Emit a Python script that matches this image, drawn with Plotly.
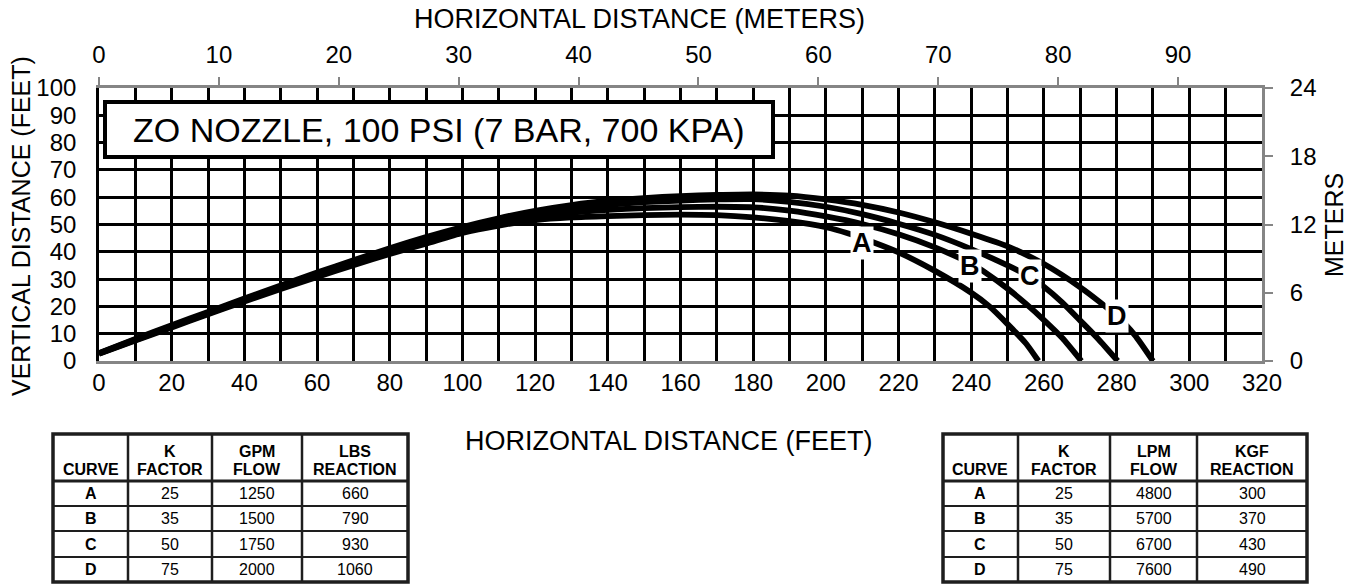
import plotly.graph_objects as go

# ---------------- data ----------------
curve_names = ["A", "B", "C", "D"]

curve_a_x = [0, 10, 20, 30, 40, 50, 60, 70, 80, 90, 100, 110, 120, 130, 140, 150, 160, 170, 180, 190,
             200, 206, 213, 220, 230, 240, 245, 250, 255, 258.5]
curve_a_y = [2.6, 7.5, 12.3, 17.1, 21.8, 26.4, 30.8, 35.1, 39.2, 43.0, 46.9, 49.6, 51.6, 52.6, 53.1, 53.4,
             53.6, 53.4, 52.6, 51.2, 49.0, 46.8, 43.5, 39.8, 33.0, 25.0, 20.0, 13.5, 6.5, 0]

curve_b_x = [0, 10, 20, 30, 40, 50, 60, 70, 80, 90, 100, 110, 120, 130, 140, 150, 160, 170, 180, 190,
             200, 210, 220, 230, 240, 244, 250, 255, 260, 265, 270.3]
curve_b_y = [2.7, 7.7, 12.6, 17.4, 22.2, 26.9, 31.4, 35.7, 39.9, 43.8, 47.6, 50.5, 53.0, 54.4, 55.4, 56.0,
             56.4, 56.5, 56.3, 55.1, 53.0, 50.2, 46.4, 41.6, 35.6, 32.3, 26.5, 21.0, 15.0, 8.5, 0]

curve_c_x = [0, 10, 20, 30, 40, 50, 60, 70, 80, 90, 100, 110, 120, 130, 140, 150, 160, 170, 180, 190,
             200, 210, 220, 230, 240, 250, 256, 260, 265, 270, 275, 280.3]
curve_c_y = [2.8, 7.9, 12.8, 17.7, 22.6, 27.3, 31.9, 36.3, 40.6, 44.6, 48.4, 51.4, 54.0, 55.8, 57.2, 58.2,
             58.8, 59.2, 59.3, 58.3, 56.5, 53.8, 50.3, 46.2, 41.0, 35.0, 31.0, 27.2, 21.5, 14.8, 8.0, 0]

curve_d_x = [0, 10, 20, 30, 40, 50, 60, 70, 80, 90, 100, 110, 120, 130, 140, 150, 160, 170, 180, 190,
             200, 210, 220, 230, 240, 250, 260, 270, 275, 280, 285, 290]
curve_d_y = [2.9, 8.1, 13.1, 18.0, 22.9, 27.7, 32.4, 36.9, 41.3, 45.4, 49.1, 52.3, 55.0, 57.1, 58.7, 59.7,
             60.4, 60.8, 61.0, 60.6, 59.2, 57.2, 54.4, 50.8, 46.6, 42.0, 35.5, 27.0, 22.0, 16.5, 9.5, 0]

label_x = [210.0, 239.7, 256.2, 280.0]
label_y = [43.2, 34.9, 31.2, 16.5]

x_feet_ticks = list(range(0, 321, 20))
y_feet_ticks = list(range(0, 101, 10))
x_meter_ticks = list(range(0, 91, 10))
y_meter_ticks = [0, 6, 12, 18, 24]

table_curves = ["A", "B", "C", "D"]
k_factor = [25, 35, 50, 75]
gpm_flow = [1250, 1500, 1750, 2000]
lbs_reaction = [660, 790, 930, 1060]
lpm_flow = [4800, 5700, 6700, 7600]
kgf_reaction = [300, 370, 430, 490]

left_headers = [("", "CURVE"), ("K", "FACTOR"), ("GPM", "FLOW"), ("LBS", "REACTION")]
right_headers = [("", "CURVE"), ("K", "FACTOR"), ("LPM", "FLOW"), ("KGF", "REACTION")]

title_text = "ZO NOZZLE, 100 PSI (7 BAR, 700 KPA)"

# ---------------- layout geometry ----------------
W, H = 1359, 584
L, R, T, B = 99, 1262, 88, 361
FONT = "Liberation Sans, Arial, Helvetica, sans-serif"


def px(x):
    return (x - L) / (R - L)


def py(y):
    return (B - y) / (B - T)


fig = go.Figure()
curves = [(curve_a_x, curve_a_y), (curve_b_x, curve_b_y), (curve_c_x, curve_c_y), (curve_d_x, curve_d_y)]
for name, (cx, cy) in zip(curve_names, curves):
    fig.add_trace(go.Scatter(x=cx, y=cy, mode="lines", name=name,
                             line=dict(color="black", width=5.8, shape="spline", smoothing=0.6),
                             hoverinfo="skip", showlegend=False))
# dummy trace for the metric axes
fig.add_trace(go.Scatter(x=[None], y=[None], xaxis="x2", yaxis="y2", showlegend=False, hoverinfo="skip"))

tickfont = dict(family=FONT, size=24, color="black")
GRID = "#000000"
GW = 2.6
AXG = "#858585"

fig.update_layout(
    width=W, height=H,
    margin=dict(l=L, r=W - R, t=T, b=H - B, pad=0),
    paper_bgcolor="white", plot_bgcolor="white",
    showlegend=False,
    xaxis=dict(range=[0, 320], tickvals=x_feet_ticks, showgrid=True, gridcolor=GRID, gridwidth=GW,
               minor=dict(dtick=10, tick0=0, showgrid=True, gridcolor=GRID, gridwidth=GW),
               showline=True, linecolor=AXG, linewidth=2.5, zeroline=False, ticks="",
               tickfont=tickfont, ticklabelstandoff=-2, fixedrange=True),
    yaxis=dict(range=[0, 100], tickvals=y_feet_ticks, showgrid=True, gridcolor=GRID, gridwidth=GW,
               showline=True, linecolor="black", linewidth=2.6, zeroline=False, ticks="",
               tickfont=tickfont, ticklabelstandoff=15, fixedrange=True),
    xaxis2=dict(range=[0, 97.0], tickvals=x_meter_ticks, overlaying="x", side="top", showgrid=False,
                showline=True, linecolor=AXG, linewidth=3, ticks="outside", ticklen=8, tickwidth=2,
                tickcolor=AXG, zeroline=False, tickfont=tickfont, ticklabelstandoff=4, fixedrange=True),
    yaxis2=dict(range=[0, 24], tickvals=y_meter_ticks, overlaying="y", side="right", showgrid=False,
                showline=True, linecolor=AXG, linewidth=3, ticks="outside", ticklen=8, tickwidth=2,
                tickcolor=AXG, zeroline=False, tickfont=tickfont, ticklabelstandoff=12, fixedrange=True),
)

shapes = []
annotations = []

# title box
shapes.append(dict(type="rect", xref="paper", yref="paper", x0=px(105), x1=px(773), y0=py(157), y1=py(102),
                   fillcolor="white", line=dict(color="black", width=4), layer="above"))
annotations.append(dict(text=title_text, xref="paper", yref="paper", x=px(439), y=py(130), showarrow=False,
                        xanchor="center", yanchor="middle", font=dict(family=FONT, size=34, color="black")))

# curve labels
for name, lx, ly in zip(curve_names, label_x, label_y):
    annotations.append(dict(text="<b>%s</b>" % name, x=lx, y=ly, xref="x", yref="y", showarrow=False,
                            xanchor="center", yanchor="middle", bgcolor="white", borderpad=1,
                            font=dict(family=FONT, size=27, color="black")))

# axis titles
annotations.append(dict(text="HORIZONTAL DISTANCE (METERS)", xref="paper", yref="paper", x=px(639), y=py(19),
                        showarrow=False, xanchor="center", yanchor="middle",
                        font=dict(family=FONT, size=27, color="black")))
annotations.append(dict(text="HORIZONTAL DISTANCE (FEET)", xref="paper", yref="paper", x=px(669), y=py(441),
                        showarrow=False, xanchor="center", yanchor="middle",
                        font=dict(family=FONT, size=27, color="black")))
annotations.append(dict(text="VERTICAL DISTANCE (FEET)", xref="paper", yref="paper", x=px(21), y=py(226),
                        showarrow=False, xanchor="center", yanchor="middle", textangle=-90,
                        font=dict(family=FONT, size=25, color="black")))
annotations.append(dict(text="METERS", xref="paper", yref="paper", x=px(1334), y=py(225),
                        showarrow=False, xanchor="center", yanchor="middle", textangle=-90,
                        font=dict(family=FONT, size=25, color="black")))

# tables
y_edges = [434, 481, 506, 531, 557, 582]
TC = "#1e1e1e"


def draw_table(x_edges, headers, columns):
    x0, x1 = x_edges[0], x_edges[-1]
    for xe in x_edges[1:-1]:
        shapes.append(dict(type="line", xref="paper", yref="paper", x0=px(xe), x1=px(xe),
                           y0=py(y_edges[0]), y1=py(y_edges[-1]), line=dict(color=TC, width=2.5)))
    for i, ye in enumerate(y_edges[1:-1]):
        shapes.append(dict(type="line", xref="paper", yref="paper", x0=px(x0), x1=px(x1),
                           y0=py(ye), y1=py(ye), line=dict(color=TC, width=3 if i == 0 else 2)))
    shapes.append(dict(type="rect", xref="paper", yref="paper", x0=px(x0), x1=px(x1),
                       y0=py(y_edges[-1]), y1=py(y_edges[0]), line=dict(color=TC, width=3.5)))
    for j, (h1, h2) in enumerate(headers):
        cx = (x_edges[j] + x_edges[j + 1]) / 2
        if h1:
            annotations.append(dict(text="<b>%s</b>" % h1, xref="paper", yref="paper", x=px(cx), y=py(451),
                                    showarrow=False, xanchor="center", yanchor="middle",
                                    font=dict(family=FONT, size=16, color="black")))
        annotations.append(dict(text="<b>%s</b>" % h2, xref="paper", yref="paper", x=px(cx), y=py(469),
                                showarrow=False, xanchor="center", yanchor="middle",
                                font=dict(family=FONT, size=16, color="black")))
    for i in range(len(columns[0])):
        cy = (y_edges[i + 1] + y_edges[i + 2]) / 2
        for j, col in enumerate(columns):
            cx = (x_edges[j] + x_edges[j + 1]) / 2
            txt = str(col[i])
            if j == 0:
                txt = "<b>%s</b>" % txt
            annotations.append(dict(text=txt, xref="paper", yref="paper", x=px(cx), y=py(cy),
                                    showarrow=False, xanchor="center", yanchor="middle",
                                    font=dict(family=FONT, size=16, color="black")))


draw_table([53, 128, 212, 302, 408], left_headers, [table_curves, k_factor, gpm_flow, lbs_reaction])
draw_table([943, 1018, 1110, 1197, 1307], right_headers, [table_curves, k_factor, lpm_flow, kgf_reaction])

fig.update_layout(shapes=shapes, annotations=annotations)

fig.write_html("out.html", config={"displayModeBar": False},
               post_script="document.body.style.margin='0';document.body.style.padding='0';")
